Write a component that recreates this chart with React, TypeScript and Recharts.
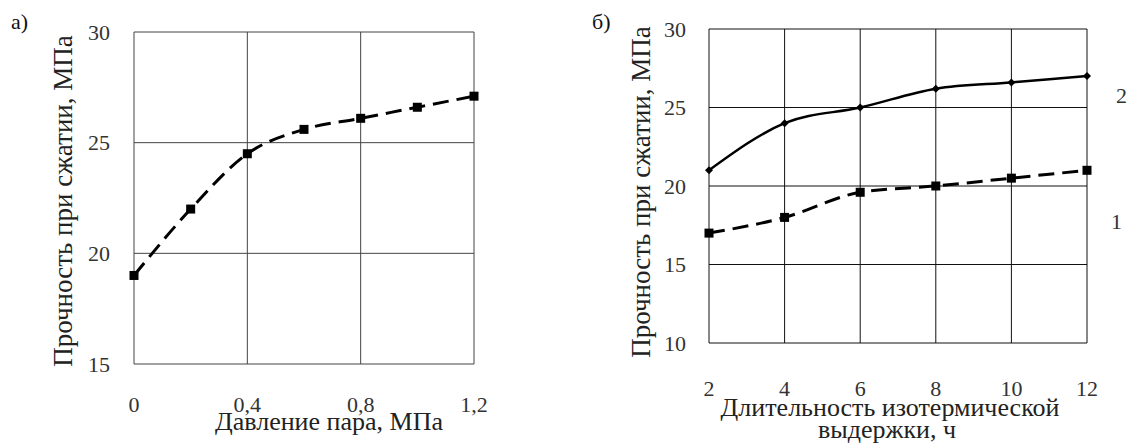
import React from 'react';
import { LineChart, Line, XAxis, YAxis, CartesianGrid, Label } from 'recharts';

const pressure = [0, 0.2, 0.4, 0.6, 0.8, 1.0, 1.2];
const strengthA = [19, 22, 24.5, 25.6, 26.1, 26.6, 27.1];
const pressureTicks = [0, 0.4, 0.8, 1.2];
const strengthTicksA = [15, 20, 25, 30];

const hours = [2, 4, 6, 8, 10, 12];
const strength1 = [17, 18, 19.6, 20, 20.5, 21];
const strength2 = [21, 24, 25, 26.2, 26.6, 27];
const strengthTicksB = [10, 15, 20, 25, 30];

const dataA = pressure.map((p, i) => ({ p, s: strengthA[i] }));
const dataB = hours.map((h, i) => ({ h, s1: strength1[i], s2: strength2[i] }));

const FONT = "Liberation Serif, Times New Roman, DejaVu Serif, serif";
const tickStyle = { fontFamily: FONT, fontSize: 22, fill: '#333' };
const TITLE = 26;

const Square = (p: any) => (
  <rect key={`sq-${p.index}`} x={p.cx - 4.5} y={p.cy - 4.5} width={9} height={9} fill="#000" />
);

const Diamond = (p: any) => (
  <polygon
    key={`dm-${p.index}`}
    points={`${p.cx},${p.cy - 4} ${p.cx + 4},${p.cy} ${p.cx},${p.cy + 4} ${p.cx - 4},${p.cy}`}
    fill="#000"
  />
);

const fmt = (v: number) => String(v).replace('.', ',');

export default function App() {
  return (
    <div style={{ position: 'absolute', left: 0, top: 0, width: 1130, height: 443, background: '#fff' }}>
      <div style={{ position: 'absolute', left: 0, top: 0 }}>
        <LineChart width={500} height={443} data={dataA} margin={{ top: 32, right: 26, bottom: 0, left: 0 }}>
          <CartesianGrid stroke="#444" strokeWidth={1} horizontalValues={strengthTicksA} verticalValues={pressureTicks} />
          <XAxis
            dataKey="p"
            type="number"
            domain={[0, 1.2]}
            ticks={pressureTicks}
            tickFormatter={fmt}
            axisLine={false}
            tickLine={false}
            tickSize={0}
            tickMargin={32}
            height={79}
            tick={tickStyle}
            interval={0}
          >
            <Label
              content={(props: any) => {
                const vb = props.viewBox;
                return (
                  <text x={vb.x + vb.width / 2 + 25} y={430} textAnchor="middle" fontFamily={FONT} fontSize={TITLE} fill="#222">
                    Давление пара, МПа
                  </text>
                );
              }}
            />
          </XAxis>
          <YAxis
            type="number"
            domain={[15, 30]}
            ticks={strengthTicksA}
            axisLine={false}
            tickLine={false}
            tickSize={0}
            tickMargin={24}
            width={134}
            tick={tickStyle}
            interval={0}
          >
            <Label
              content={(props: any) => {
                const vb = props.viewBox;
                const cx = 72;
                const cy = vb.y + vb.height / 2 + 3;
                return (
                  <text x={cx} y={cy} transform={`rotate(-90, ${cx}, ${cy})`} textAnchor="middle" fontFamily={FONT} fontSize={27} fill="#222">
                    Прочность при сжатии, МПа
                  </text>
                );
              }}
            />
          </YAxis>
          <Line
            type="monotone"
            dataKey="s"
            stroke="#000"
            strokeWidth={3}
            strokeDasharray="16 8"
            dot={Square}
            isAnimationActive={false}
          />
        </LineChart>
      </div>

      <div style={{ position: 'absolute', left: 560, top: 0 }}>
        <LineChart width={570} height={443} data={dataB} margin={{ top: 29, right: 43, bottom: 0, left: 0 }}>
          <CartesianGrid stroke="#111" strokeWidth={1} horizontalValues={strengthTicksB} verticalValues={hours} />
          <XAxis
            dataKey="h"
            type="number"
            domain={[2, 12]}
            ticks={hours}
            axisLine={false}
            tickLine={false}
            tickSize={0}
            tickMargin={37}
            height={100}
            tick={tickStyle}
            interval={0}
          >
            <Label
              content={(props: any) => {
                const vb = props.viewBox;
                const cx = vb.x + vb.width / 2 - 8;
                return (
                  <g>
                    <text x={cx} y={416} textAnchor="middle" fontFamily={FONT} fontSize={TITLE} fill="#222">
                      Длительность изотермической
                    </text>
                    <text x={cx - 3} y={438} textAnchor="middle" fontFamily={FONT} fontSize={TITLE} fill="#222">
                      выдержки, ч
                    </text>
                  </g>
                );
              }}
            />
          </XAxis>
          <YAxis
            type="number"
            domain={[10, 30]}
            ticks={strengthTicksB}
            axisLine={false}
            tickLine={false}
            tickSize={0}
            tickMargin={23}
            width={149}
            tick={tickStyle}
            interval={0}
          >
            <Label
              content={(props: any) => {
                const vb = props.viewBox;
                const cx = 90;
                const cy = vb.y + vb.height / 2 + 6;
                return (
                  <text x={cx} y={cy} transform={`rotate(-90, ${cx}, ${cy})`} textAnchor="middle" fontFamily={FONT} fontSize={27} fill="#222">
                    Прочность при сжатии, МПа
                  </text>
                );
              }}
            />
          </YAxis>
          <Line
            type="monotone"
            dataKey="s2"
            stroke="#000"
            strokeWidth={2.5}
            dot={Diamond}
            isAnimationActive={false}
          />
          <Line
            type="monotone"
            dataKey="s1"
            stroke="#000"
            strokeWidth={3}
            strokeDasharray="16 8"
            dot={Square}
            isAnimationActive={false}
          />
        </LineChart>
      </div>

      <svg width={1130} height={443} style={{ position: 'absolute', left: 0, top: 0, pointerEvents: 'none' }}>
        <text x={11} y={29} fontFamily={FONT} fontSize={22} fill="#111">а)</text>
        <text x={592} y={29} fontFamily={FONT} fontSize={22} fill="#111">б)</text>
        <text x={1116} y={103} fontFamily={FONT} fontSize={22} fill="#333">2</text>
        <text x={1111} y={229} fontFamily={FONT} fontSize={22} fill="#333">1</text>
      </svg>
    </div>
  );
}
